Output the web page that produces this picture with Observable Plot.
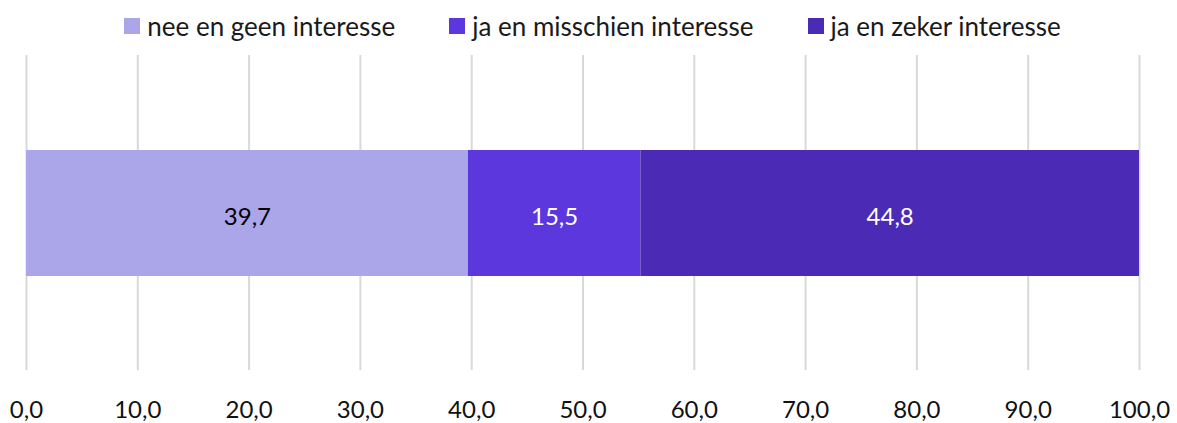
<!DOCTYPE html>
<html>
<head>
<meta charset="utf-8">
<script src="https://cdn.jsdelivr.net/npm/d3@7"></script>
<script src="https://cdn.jsdelivr.net/npm/@observablehq/plot@0.6"></script>
<style>
  body { margin: 0; background: #fff; font-family: Lato, "Open Sans", sans-serif; }
  #legend { height: 52px; display: flex; justify-content: center; align-items: center; gap: 54px; font-size: 26px; color: #1a1a1a; padding-left: 8px; box-sizing: border-box; }
  #legend .item { display: flex; align-items: center; gap: 7px; }
  #legend .sw { width: 16px; height: 16px; display: inline-block; }
</style>
</head>
<body>
<div id="legend"></div>
<div id="chart"></div>
<script>
const categories = ["nee en geen interesse", "ja en misschien interesse", "ja en zeker interesse"];
const values = [39.7, 15.5, 44.8];
const colors = ["#ABA5EA", "#5B37DD", "#4B2BB5"];
const labelColors = ["#000000", "#ffffff", "#ffffff"];
const ticks = [0, 10, 20, 30, 40, 50, 60, 70, 80, 90, 100];

const data = categories.map((c, i) => ({category: c, value: values[i], row: "all", label: values[i].toFixed(1).replace(".", ","), tc: labelColors[i]}));

const legend = document.getElementById("legend");
categories.forEach((c, i) => {
  const it = document.createElement("span");
  it.className = "item";
  it.innerHTML = `<span class="sw" style="background:${colors[i]}"></span><span>${c}</span>`;
  legend.appendChild(it);
});

const fmt = d => d.toFixed(1).replace(".", ",");

const chart = Plot.plot({
  width: 1177,
  height: 371,
  marginLeft: 26,
  marginRight: 38,
  marginTop: 3,
  marginBottom: 53,
  style: {fontFamily: "Lato, 'Open Sans', sans-serif", fontSize: "20px", color: "#111"},
  x: {domain: [0, 100], ticks: ticks, tickFormat: fmt, tickSize: 0, tickPadding: 30, label: null},
  y: {domain: ["all"], padding: 0.4286, axis: null},
  color: {domain: categories, range: colors},
  marks: [
    Plot.ruleX(ticks, {stroke: "#d9d9d9", strokeWidth: 2, strokeOpacity: 1}),
    Plot.barX(data, Plot.stackX({x: "value", y: "row", fill: "category", order: categories})),
    Plot.text(data, Plot.stackX({x: "value", y: "row", z: "category", order: categories, text: "label", fill: d => d.tc, fontSize: 24, dy: 4})),
    Plot.axisX({ticks: ticks, tickFormat: fmt, tickSize: 0, tickPadding: 30, fontSize: 24, label: null})
  ]
});
document.getElementById("chart").appendChild(chart);
</script>
</body>
</html>
